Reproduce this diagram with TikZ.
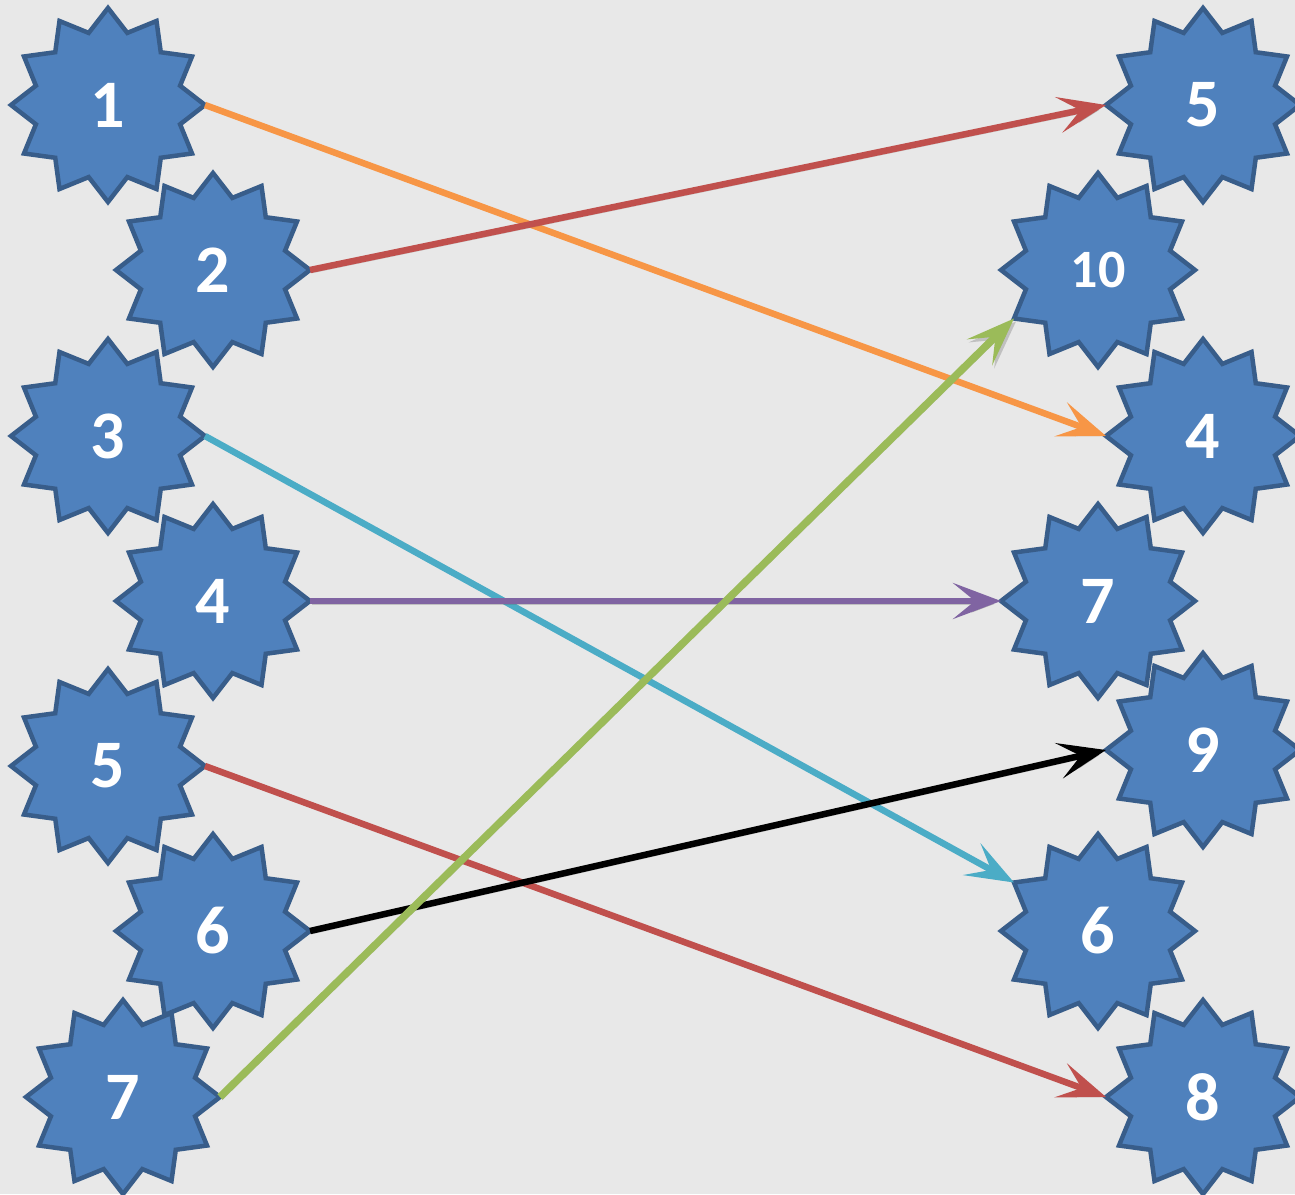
\documentclass[tikz,border=0pt]{standalone}
\usepackage{fontspec}
\setmainfont{Carlito}
\usepackage{xcolor}
\usetikzlibrary{shapes.geometric,arrows.meta}
\definecolor{bgpaper}{HTML}{E8E8E8}
\definecolor{starfill}{HTML}{4F81BD}
\definecolor{starline}{HTML}{385D8A}
\definecolor{linkorange}{HTML}{F79646}
\definecolor{linkred}{HTML}{C0504D}
\definecolor{linkteal}{HTML}{4BACC6}
\definecolor{linkpurple}{HTML}{8064A2}
\definecolor{linkgreen}{HTML}{9BBB59}
\tikzstyle{burst} = [star, star points=12, star point ratio=1.3, minimum size=194pt,
    inner sep=0pt, outer sep=0pt, fill=starfill, draw=starline, line width=4.5pt,
    text=white, font=\fontsize{68}{68}\selectfont\bfseries]
\tikzstyle{link} = [line width=6.5pt, -{Stealth[length=48pt, width=36pt, inset=22pt]},
    preaction={draw=black!60, opacity=0.3, transform canvas={shift={(2pt,-3pt)}}}]

\begin{document}
\begin{tikzpicture}[x=1pt, y=-1pt]
\fill[bgpaper] (0,0) rectangle (1295,1194);
\useasboundingbox (0,0) rectangle (1295,1194);
% left column
\node[burst] (l1) at (108,105) {1};
\node[burst] (l2) at (213,270) {2};
\node[burst] (l3) at (108,436) {3};
\node[burst] (l4) at (213,601) {4};
\node[burst] (l5) at (108,766) {5};
\node[burst] (l6) at (213,931) {6};
\node[burst] (l7) at (123,1097) {7};
% right column
\node[burst] (r5) at (1203,105) {5};
\node[burst, font=\fontsize{54}{54}\selectfont\bfseries] (r10) at (1098,270) {10};
\node[burst] (r4) at (1203,436) {4};
\node[burst] (r7) at (1098,601) {7};
\node[burst] (r9) at (1203,750) {9};
\node[burst] (r6) at (1098,931) {6};
\node[burst] (r8) at (1203,1097) {8};
% links
\draw[link, linkorange] (l1.outer point 10) -- (r4.outer point 4);
\draw[link, linkred] (l2.outer point 10) -- (r5.outer point 4);
\draw[link, linkteal] (l3.outer point 10) -- (r6.outer point 3);
\draw[link, linkpurple] (l4.outer point 10) -- (r7.outer point 4);
\draw[link, linkred] (l5.outer point 10) -- (r8.outer point 4);
\draw[link, black] (l6.outer point 10) -- (r9.outer point 4);
\draw[link, linkgreen, line width=7.5pt] (l7.outer point 10) -- (r10.outer point 5);
\end{tikzpicture}
\end{document}
